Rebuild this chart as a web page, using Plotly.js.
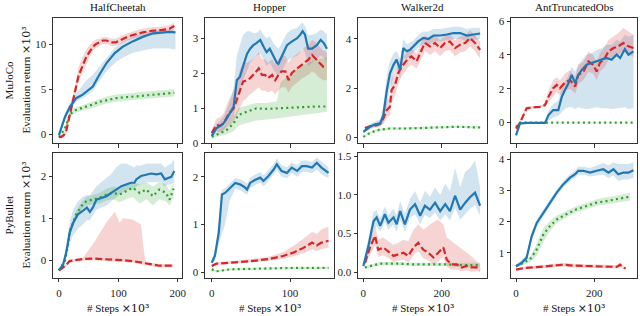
<!DOCTYPE html>
<html>
<head>
<meta charset="utf-8">
<script src="https://cdn.plot.ly/plotly-3.0.1.min.js"></script>
<style>html,body{margin:0;padding:0;background:#fff}#chart{width:640px;height:316px}</style>
</head>
<body>
<div id="chart"></div>
<script>
// ---------- labels ----------
const envNames = ['HalfCheetah', 'Hopper', 'Walker2d', 'AntTruncatedObs'];
const rowNames = ['MuJoCo', 'PyBullet'];
const xTitle = '# Steps <span style="font-family:DejaVu Serif">×10³</span>';
const yTitle = 'Evaluation return <span style="font-family:DejaVu Serif">×10³</span>';

// ---------- MuJoCo HalfCheetah ----------
const mjHcBlueX = [0,5,10,18,29,40,46,57,68,80,94,107,124,141,158,175,186,196];
const mjHcBlue   = [-0.1,0.9,1.9,3.0,4.0,4.4,4.7,5.3,6.6,7.9,9.0,9.7,10.3,10.8,11.2,11.3,11.35,11.3];
const mjHcBlueLo = [-0.3,0.6,1.5,2.6,3.6,4.0,4.3,4.8,5.9,7.0,7.9,8.5,9.0,9.3,9.5,9.5,9.5,9.4];
const mjHcBlueHi = [0.1,1.2,2.3,3.5,4.5,5.4,6.0,6.6,7.5,8.5,9.6,10.3,10.8,11.2,11.5,11.6,11.6,11.6];
const mjHcRedX = [0,4,8,12,16,21,25,29,33,38,46,52,57,62,68,74,80,88,96,107,115,124,133,141,150,158,167,175,186,194];
const mjHcRed   = [-0.3,-0.3,-0.1,0.3,1.5,3.0,4.4,5.6,6.5,7.3,8.6,9.2,9.7,10.0,10.2,10.4,10.4,10.2,10.2,10.6,10.8,11.0,11.2,11.3,11.4,11.5,11.5,11.6,11.7,12.0];
const mjHcRedLo = [-0.5,-0.5,-0.3,0.0,1.0,2.4,3.7,4.9,5.8,6.6,7.8,8.6,9.2,9.6,9.8,10.0,10.0,9.8,9.8,10.2,10.4,10.6,10.8,10.9,10.9,11.0,11.1,11.2,11.3,11.6];
const mjHcRedHi = [-0.1,-0.1,0.1,0.6,2.0,3.6,5.1,6.4,7.4,8.3,9.4,9.9,10.3,10.5,10.6,10.8,10.8,10.6,10.6,11.0,11.2,11.4,11.6,11.7,11.8,11.9,11.9,12.0,12.1,12.4];
const mjHcGreenX = [0,5,10,14,18,23,29,38,46,57,68,80,96,110,124,138,152,166,180,194];
const mjHcGreen   = [-0.3,0.1,0.6,1.4,2.1,2.5,2.7,2.9,3.05,3.3,3.6,3.8,4.0,4.1,4.15,4.25,4.35,4.45,4.5,4.6];
const mjHcGreenLo = [-0.4,-0.05,0.4,1.1,1.8,2.2,2.4,2.6,2.7,2.95,3.2,3.4,3.6,3.7,3.75,3.85,3.95,4.05,4.1,4.2];
const mjHcGreenHi = [-0.2,0.25,0.8,1.7,2.4,2.8,3.0,3.2,3.4,3.65,3.95,4.2,4.4,4.5,4.55,4.65,4.75,4.85,4.9,5.0];

// ---------- MuJoCo Hopper ----------
const mjHoBlueX = [0,6,11,15,19,23,28,32,36,40,45,49,53,57,62,66,70,74,79,83,85,89,96,102,109,113,116,119,123,128,134,139,143,147];
const mjHoBlue   = [0.21,0.43,0.5,0.57,0.7,0.86,1.05,1.8,1.9,2.2,2.55,2.7,2.8,2.86,2.95,2.76,2.6,2.7,2.46,2.3,2.27,2.46,2.8,2.9,3.0,3.1,3.2,3.1,2.7,2.7,2.8,2.95,2.86,2.7];
const mjHoBlueLo = [0.15,0.3,0.35,0.4,0.5,0.6,0.75,1.3,1.5,1.8,2.1,2.3,2.4,2.5,2.55,2.4,2.2,2.3,2.1,1.95,1.9,2.05,2.35,2.45,2.5,2.6,2.7,2.6,2.2,2.3,2.4,2.5,2.45,2.3];
const mjHoBlueHi = [0.3,0.55,0.65,0.75,0.95,1.2,1.6,2.5,2.8,3.1,3.2,3.2,3.15,3.15,3.25,3.1,3.0,3.05,2.85,2.75,2.7,2.85,3.15,3.25,3.3,3.4,3.45,3.35,3.1,3.1,3.15,3.25,3.2,3.1];
const mjHoRedX = [0,6,11,15,21,28,32,36,40,45,49,55,60,64,68,72,77,81,85,89,94,98,102,109,115,119,123,128,132,136,142,147];
const mjHoRed   = [0.29,0.52,0.5,0.57,0.81,1.0,1.24,1.52,1.76,1.8,1.86,2.0,2.14,1.95,1.95,1.86,1.95,1.8,1.95,2.05,2.05,1.8,2.0,2.14,2.24,2.33,2.38,2.52,2.43,2.33,2.19,2.2];
const mjHoRedLo = [0.2,0.35,0.3,0.35,0.5,0.6,0.8,1.0,1.2,1.3,1.4,1.5,1.6,1.5,1.5,1.45,1.5,1.4,1.5,1.6,1.6,1.45,1.6,1.75,1.85,1.9,1.95,2.05,2.0,1.9,1.8,1.8];
const mjHoRedHi = [0.4,0.7,0.75,0.85,1.2,1.5,1.8,2.1,2.3,2.3,2.35,2.45,2.6,2.4,2.4,2.3,2.4,2.25,2.4,2.5,2.5,2.3,2.45,2.55,2.65,2.75,2.8,2.95,2.9,2.8,2.65,2.6];
const mjHoGreenX = [0,6,11,19,28,34,40,49,57,70,83,88,96,113,134,147];
const mjHoGreen   = [0.19,0.24,0.29,0.38,0.57,0.81,0.86,0.93,1.0,0.98,1.0,1.0,1.0,1.03,1.05,1.05];
const mjHoGreenLo = [0.15,0.18,0.2,0.25,0.35,0.5,0.55,0.6,0.65,0.68,0.7,0.72,0.75,0.8,0.85,0.9];
const mjHoGreenHi = [0.25,0.3,0.38,0.5,0.75,1.0,1.05,1.1,1.15,1.15,1.2,1.75,1.9,2.2,2.4,2.45];

// ---------- MuJoCo Walker2d ----------
const mjWaBlueX = [0,17,30,43,51,60,68,77,85,94,102,111,119,128,140,153,166,179,196,213,230,247,264,281,298];
const mjWaBlue   = [0.23,0.44,0.54,0.57,0.91,1.93,2.61,2.95,3.16,2.75,3.63,3.5,3.56,3.7,3.9,4.04,4.0,4.14,4.14,4.18,4.24,4.24,4.14,4.18,4.22];
const mjWaBlueLo = [0.18,0.35,0.45,0.45,0.6,1.3,2.0,2.5,2.8,2.4,3.2,3.2,3.3,3.45,3.65,3.8,3.75,3.9,3.9,3.95,4.0,4.0,3.9,3.95,4.0];
const mjWaBlueHi = [0.3,0.55,0.65,0.75,1.3,2.5,3.1,3.4,3.5,3.2,4.0,3.8,3.85,3.95,4.15,4.3,4.3,4.4,4.4,4.45,4.5,4.5,4.4,4.45,4.45];
const mjWaRedX = [4,17,34,43,51,60,68,72,81,89,98,106,115,123,136,145,157,170,183,196,208,221,234,247,260,272,285,298];
const mjWaRed   = [0.39,0.46,0.5,0.57,0.78,1.12,1.25,1.93,2.14,2.61,2.88,3.02,3.22,3.29,3.09,3.43,3.84,3.7,3.84,3.63,3.84,3.9,3.63,3.77,3.84,4.04,3.84,3.56];
const mjWaRedLo = [0.33,0.4,0.42,0.45,0.55,0.8,0.9,1.4,1.7,2.2,2.5,2.65,2.85,2.95,2.8,3.1,3.5,3.35,3.5,3.3,3.5,3.55,3.3,3.45,3.5,3.7,3.5,3.2];
const mjWaRedHi = [0.45,0.52,0.58,0.7,1.0,1.45,1.7,2.4,2.6,3.0,3.25,3.35,3.55,3.6,3.4,3.75,4.15,4.0,4.15,3.95,4.15,4.2,3.95,4.1,4.15,4.35,4.15,3.9];
const mjWaGreenX = [0,13,34,68,111,153,196,238,298];
const mjWaGreen   = [0.03,0.16,0.3,0.37,0.37,0.39,0.41,0.44,0.41];
const mjWaGreenLo = [0.0,0.12,0.25,0.32,0.33,0.35,0.37,0.4,0.37];
const mjWaGreenHi = [0.06,0.2,0.35,0.42,0.42,0.43,0.45,0.48,0.45];

// ---------- MuJoCo AntTruncatedObs ----------
const mjAnBlueX = [0,10,27,44,74,83,95,108,117,125,134,142,151,159,168,180,193,206,219,231,244,257,266,278,287,300];
const mjAnBlue   = [-0.76,-0.06,-0.02,-0.02,-0.02,0.44,0.74,0.74,1.53,1.93,2.33,2.82,2.33,2.82,3.12,3.42,3.52,3.62,3.72,3.82,3.72,4.02,3.82,4.35,4.02,4.21];
const mjAnBlueLo = [-0.8,-0.1,-0.05,-0.05,-0.05,0.1,0.3,0.4,0.6,0.8,0.9,0.9,0.8,0.9,0.85,0.8,0.85,0.9,0.85,0.85,0.8,0.85,0.85,0.9,0.8,0.85];
const mjAnBlueHi = [-0.7,0.0,0.02,0.02,0.02,0.7,1.1,1.3,2.0,2.4,2.8,3.3,3.0,3.4,3.7,4.0,4.1,4.3,4.4,4.6,4.6,4.9,4.8,5.2,5.1,5.2];
const mjAnRedX = [0,10,19,27,44,61,74,83,95,104,112,125,138,151,159,172,185,197,206,214,227,236,249,261,274,287,300];
const mjAnRed   = [-0.36,-0.02,0.44,0.84,0.9,0.93,1.03,1.53,2.03,2.23,2.03,2.37,2.52,2.13,2.82,3.02,3.62,3.42,3.02,3.52,3.82,4.21,4.41,4.51,4.71,4.51,4.41];
const mjAnRedLo = [-0.4,-0.05,0.35,0.75,0.85,0.88,0.95,1.2,1.6,1.8,1.6,1.9,2.0,1.7,2.3,2.5,3.0,2.9,2.5,3.0,3.3,3.7,3.9,4.0,4.2,4.0,3.9];
const mjAnRedHi = [-0.3,0.02,0.55,0.95,0.98,1.0,1.15,1.9,2.5,2.7,2.5,2.9,3.1,2.7,3.4,3.6,4.2,4.0,3.6,4.1,4.5,4.9,5.1,5.3,5.6,5.4,5.2];
const mjAnGreenX = [0,10,30,60,100,150,200,250,300];
const mjAnGreen   = [-0.26,0.0,0.0,0.0,0.0,0.0,0.0,0.0,0.0];
const mjAnGreenLo = [-0.28,-0.02,-0.02,-0.02,-0.02,-0.02,-0.02,-0.02,-0.02];
const mjAnGreenHi = [-0.24,0.02,0.02,0.02,0.02,0.02,0.02,0.02,0.02];

// ---------- PyBullet HalfCheetah ----------
const pbHcBlueX = [0,7,12,18,24,32,40,47,52,57,63,71,80,88,96,105,113,121,127,130,138,147,155,164,172,178,183,189,194];
const pbHcBlue   = [-0.24,-0.1,0.17,0.65,0.89,1.09,1.17,1.25,1.15,1.25,1.44,1.48,1.52,1.6,1.68,1.76,1.8,1.84,1.84,1.92,2.0,2.04,2.06,2.04,2.06,1.92,1.94,1.98,2.12];
const pbHcBlueLo = [-0.28,-0.15,0.05,0.4,0.6,0.75,0.85,0.95,0.95,1.05,1.2,1.25,1.3,1.4,1.5,1.6,1.65,1.7,1.7,1.75,1.8,1.85,1.85,1.85,1.85,1.75,1.8,1.8,1.85];
const pbHcBlueHi = [-0.2,-0.05,0.3,0.9,1.2,1.4,1.5,1.55,1.55,1.65,1.75,1.85,1.95,2.05,2.2,2.3,2.3,2.25,2.2,2.25,2.25,2.3,2.3,2.3,2.3,2.2,2.25,2.3,2.4];
const pbHcRedX = [0,10,18,35,40,57,74,80,94,102,108,124,138,144,147,169,192];
const pbHcRed   = [-0.24,-0.14,-0.02,0.02,0.03,0.04,0.03,0.02,0.01,0.0,0.0,-0.02,-0.05,-0.07,-0.08,-0.13,-0.13];
const pbHcRedLo = [-0.27,-0.18,-0.06,-0.02,-0.01,0.0,-0.01,-0.02,-0.03,-0.04,-0.04,-0.06,-0.09,-0.11,-0.12,-0.17,-0.17];
const pbHcRedHi = [-0.2,-0.1,0.02,0.05,0.05,0.38,0.77,0.9,1.15,0.89,1.0,0.97,0.85,0.1,-0.04,-0.09,-0.09];
const pbHcGreenX = [0,10,15,19,24,29,38,46,57,68,80,91,102,113,124,136,147,158,169,180,186,193];
const pbHcGreen   = [-0.24,-0.02,0.33,0.73,0.89,1.09,1.29,1.4,1.44,1.48,1.56,1.6,1.56,1.64,1.72,1.6,1.68,1.52,1.68,1.6,1.44,1.7];
const pbHcGreenLo = [-0.26,-0.06,0.25,0.65,0.8,1.0,1.2,1.3,1.33,1.35,1.42,1.45,1.38,1.45,1.5,1.35,1.45,1.3,1.45,1.4,1.3,1.5];
const pbHcGreenHi = [-0.22,0.02,0.4,0.8,0.98,1.18,1.38,1.5,1.55,1.6,1.7,1.75,1.72,1.8,1.85,1.8,1.85,1.75,1.85,1.8,1.65,1.85];

// ---------- PyBullet Hopper ----------
const pbHoBlueX = [0,4,9,13,17,23,30,36,42,45,49,55,62,66,72,79,83,89,96,102,109,115,121,128,134,140,145,149];
const pbHoBlue   = [0.2,0.34,0.83,1.63,1.66,1.75,1.87,1.84,1.78,1.73,1.87,1.93,1.98,1.91,2.01,2.15,2.26,2.12,2.08,2.19,2.12,2.22,2.22,2.19,2.29,2.19,2.12,2.08];
const pbHoBlueLo = [0.15,0.25,0.6,0.8,1.0,1.5,1.75,1.72,1.66,1.62,1.76,1.82,1.87,1.8,1.9,2.04,2.14,2.0,1.97,2.08,2.0,2.1,2.1,2.07,2.15,2.05,2.0,1.98];
const pbHoBlueHi = [0.25,0.45,1.05,1.72,1.76,1.85,1.97,1.95,1.9,1.85,1.98,2.04,2.1,2.03,2.13,2.27,2.38,2.24,2.2,2.3,2.24,2.34,2.34,2.31,2.4,2.32,2.25,2.2];
const pbHoRedX = [0,6,23,49,74,91,104,117,128,134,140,149];
const pbHoRed   = [0.13,0.18,0.2,0.23,0.28,0.34,0.41,0.51,0.62,0.56,0.62,0.66];
const pbHoRedLo = [0.11,0.15,0.17,0.2,0.24,0.28,0.33,0.4,0.48,0.44,0.48,0.52];
const pbHoRedHi = [0.15,0.21,0.23,0.27,0.33,0.42,0.55,0.7,0.85,0.8,0.9,0.95];
const pbHoGreenX = [0,6,23,57,100,149];
const pbHoGreen   = [0.06,0.02,0.06,0.08,0.09,0.09];
const pbHoGreenLo = [0.04,0.0,0.04,0.06,0.07,0.07];
const pbHoGreenHi = [0.08,0.04,0.08,0.1,0.11,0.11];

// ---------- PyBullet Walker2d ----------
const pbWaBlueX = [0,13,26,34,43,55,64,77,85,94,106,119,132,145,157,170,183,196,209,221,234,247,260,272,285,298];
const pbWaBlue   = [0.08,0.34,0.66,0.71,0.6,0.75,0.64,0.71,0.62,0.79,0.62,0.81,0.88,0.73,0.86,0.81,0.9,0.79,0.88,0.79,0.99,0.81,0.9,0.97,1.03,0.86];
const pbWaBlueLo = [0.06,0.25,0.55,0.6,0.52,0.65,0.55,0.62,0.52,0.68,0.52,0.7,0.75,0.62,0.74,0.7,0.77,0.67,0.75,0.67,0.83,0.68,0.75,0.82,0.87,0.73];
const pbWaBlueHi = [0.1,0.45,0.78,0.8,0.7,0.85,0.74,0.82,0.74,0.92,0.75,0.95,1.05,0.9,1.05,0.98,1.1,1.0,1.15,1.05,1.35,1.1,1.3,1.35,1.45,1.1];
const pbWaRedX = [4,17,30,38,51,64,77,89,102,115,128,140,153,166,179,191,204,213,225,238,251,264,277,289,298];
const pbWaRed   = [0.12,0.32,0.47,0.29,0.32,0.27,0.21,0.23,0.25,0.21,0.32,0.38,0.29,0.25,0.19,0.25,0.32,0.16,0.1,0.1,0.06,0.08,0.06,0.06,0.03];
const pbWaRedLo = [0.08,0.22,0.35,0.2,0.22,0.18,0.13,0.15,0.16,0.12,0.22,0.27,0.18,0.15,0.1,0.14,0.2,0.07,0.03,0.03,0.01,0.02,0.0,0.01,0.0];
const pbWaRedHi = [0.16,0.42,0.6,0.42,0.45,0.4,0.35,0.38,0.42,0.4,0.55,0.62,0.55,0.6,0.65,0.68,0.62,0.45,0.4,0.35,0.3,0.25,0.2,0.15,0.1];
const pbWaGreenX = [4,17,43,85,128,170,213,255,298];
const pbWaGreen   = [0.06,0.08,0.11,0.11,0.1,0.1,0.1,0.09,0.09];
const pbWaGreenLo = [0.04,0.06,0.09,0.09,0.08,0.08,0.08,0.06,0.06];
const pbWaGreenHi = [0.08,0.1,0.13,0.13,0.12,0.12,0.12,0.12,0.12];

// ---------- PyBullet AntTruncatedObs ----------
const pbAnBlueX = [0,14,27,40,53,70,87,104,121,138,151,159,172,189,206,223,236,249,261,274,287,300];
const pbAnBlue   = [0.57,0.68,0.84,1.53,1.96,2.29,2.6,2.93,3.2,3.41,3.52,3.63,3.63,3.57,3.63,3.68,3.57,3.68,3.52,3.57,3.57,3.65];
const pbAnBlueLo = [0.52,0.6,0.74,1.38,1.84,2.18,2.5,2.83,3.1,3.3,3.4,3.5,3.5,3.45,3.48,3.5,3.4,3.48,3.3,3.35,3.35,3.4];
const pbAnBlueHi = [0.62,0.76,0.94,1.68,2.08,2.4,2.7,3.03,3.3,3.52,3.64,3.76,3.76,3.72,3.8,3.88,3.8,3.9,3.85,3.85,3.85,3.9];
const pbAnRedX = [0,19,61,104,121,147,189,231,257,266,274,280];
const pbAnRed   = [0.46,0.51,0.55,0.59,0.62,0.59,0.57,0.55,0.55,0.62,0.53,0.5];
const pbAnRedLo = [0.42,0.47,0.5,0.53,0.56,0.53,0.51,0.5,0.5,0.56,0.48,0.46];
const pbAnRedHi = [0.5,0.55,0.6,0.66,0.68,0.65,0.63,0.6,0.6,0.68,0.58,0.54];
const pbAnGreenX = [0,19,36,53,70,87,104,129,155,180,206,231,257,291];
const pbAnGreen   = [0.57,0.68,0.79,1.11,1.59,1.86,2.07,2.24,2.4,2.5,2.61,2.66,2.72,2.8];
const pbAnGreenLo = [0.53,0.62,0.7,0.9,1.35,1.7,1.95,2.14,2.3,2.4,2.5,2.56,2.62,2.68];
const pbAnGreenHi = [0.61,0.74,0.88,1.3,1.8,2.02,2.2,2.34,2.5,2.6,2.72,2.78,2.84,2.92];

// ---------- axis ticks ----------
const xTickVals = [[0,100,200],[0,100],[0,200],[0,200]];
const yTickVals = [[0,5,10],[0,1,2,3],[0,2,4],[0,2,4,6],[0,1,2],[0,1,2],[0,0.5,1.0,1.5],[1,2,3,4]];
const yTickText = [['0','5','10'],['0','1','2','3'],['0','2','4'],['0','2','4','6'],['0','1','2'],['0','1','2'],['0.0','0.5','1.0','1.5'],['1','2','3','4']];

// ---------- build ----------
const BLUE = '#1f77b4', RED = '#d62728', GREEN = '#2ca02c';
const BLUE_F = 'rgba(31,119,180,0.2)', RED_F = 'rgba(214,39,40,0.2)', GREEN_F = 'rgba(44,160,44,0.2)';

const panels = [
  {blue:[mjHcBlueX,mjHcBlue,mjHcBlueLo,mjHcBlueHi], red:[mjHcRedX,mjHcRed,mjHcRedLo,mjHcRedHi], green:[mjHcGreenX,mjHcGreen,mjHcGreenLo,mjHcGreenHi], xr:[-10,207], yr:[-1.0,12.95]},
  {blue:[mjHoBlueX,mjHoBlue,mjHoBlueLo,mjHoBlueHi], red:[mjHoRedX,mjHoRed,mjHoRedLo,mjHoRedHi], green:[mjHoGreenX,mjHoGreen,mjHoGreenLo,mjHoGreenHi], xr:[-8.6,156], yr:[0.0,3.59]},
  {blue:[mjWaBlueX,mjWaBlue,mjWaBlueLo,mjWaBlueHi], red:[mjWaRedX,mjWaRed,mjWaRedLo,mjWaRedHi], green:[mjWaGreenX,mjWaGreen,mjWaGreenLo,mjWaGreenHi], xr:[-13.6,315.5], yr:[-0.23,4.87]},
  {blue:[mjAnBlueX,mjAnBlue,mjAnBlueLo,mjAnBlueHi], red:[mjAnRedX,mjAnRed,mjAnRedLo,mjAnRedHi], green:[mjAnGreenX,mjAnGreen,mjAnGreenLo,mjAnGreenHi], xr:[-12.8,309], yr:[-1.23,6.22]},
  {blue:[pbHcBlueX,pbHcBlue,pbHcBlueLo,pbHcBlueHi], red:[pbHcRedX,pbHcRed,pbHcRedLo,pbHcRedHi], green:[pbHcGreenX,pbHcGreen,pbHcGreenLo,pbHcGreenHi], xr:[-10,207], yr:[-0.41,2.54]},
  {blue:[pbHoBlueX,pbHoBlue,pbHoBlueLo,pbHoBlueHi], red:[pbHoRedX,pbHoRed,pbHoRedLo,pbHoRedHi], green:[pbHoGreenX,pbHoGreen,pbHoGreenLo,pbHoGreenHi], xr:[-8.6,156], yr:[-0.11,2.49]},
  {blue:[pbWaBlueX,pbWaBlue,pbWaBlueLo,pbWaBlueHi], red:[pbWaRedX,pbWaRed,pbWaRedLo,pbWaRedHi], green:[pbWaGreenX,pbWaGreen,pbWaGreenLo,pbWaGreenHi], xr:[-13.6,315.5], yr:[-0.07,1.54]},
  {blue:[pbAnBlueX,pbAnBlue,pbAnBlueLo,pbAnBlueHi], red:[pbAnRedX,pbAnRed,pbAnRedLo,pbAnRedHi], green:[pbAnGreenX,pbAnGreen,pbAnGreenLo,pbAnGreenHi], xr:[-12.8,309], yr:[0.21,4.19]}
];

const colDom = [[53/640,182/640],[205/640,334/640],[358/640,487/640],[511/640,637/640]];
const rowDom = [[1-143.3/316,1-17.5/316],[1-277.5/316,1-153.3/316]];
const FONT = 'Liberation Serif, Times New Roman, serif';
const AX = '#333';
const TFONT = {family: FONT, size: 11, color: '#111'};

const traces = [];
const layout = {
  width: 640, height: 316,
  margin: {l:0, r:0, t:0, b:0},
  paper_bgcolor: '#fff', plot_bgcolor: '#fff',
  showlegend: false,
  font: {family: FONT, size: 11, color: '#222'},
  hovermode: false,
  annotations: []
};
const axName = (letter, n) => letter + 'axis' + (n === 1 ? '' : n);
const axId = (letter, n) => letter + (n === 1 ? '' : n);

panels.forEach((p, i) => {
  const n = i + 1;
  const xa = axId('x', n), ya = axId('y', n);
  const col = i % 4, row = Math.floor(i / 4);
  const bands = [[p.blue, BLUE_F], [p.red, RED_F], [p.green, GREEN_F]];
  bands.forEach(([s, f]) => {
    traces.push({x: s[0], y: s[2], xaxis: xa, yaxis: ya, mode: 'lines', line: {width: 0, color: f}, hoverinfo: 'skip'});
    traces.push({x: s[0], y: s[3], xaxis: xa, yaxis: ya, mode: 'lines', line: {width: 0, color: f}, fill: 'tonexty', fillcolor: f, hoverinfo: 'skip'});
  });
  traces.push({x: p.green[0], y: p.green[1], xaxis: xa, yaxis: ya, mode: 'lines', line: {color: GREEN, width: 2.2, dash: '2px,3.3px'}});
  traces.push({x: p.red[0], y: p.red[1], xaxis: xa, yaxis: ya, mode: 'lines', line: {color: RED, width: 2.2, dash: '7px,3px'}});
  traces.push({x: p.blue[0], y: p.blue[1], xaxis: xa, yaxis: ya, mode: 'lines', line: {color: BLUE, width: 2.2}});

  const common = {showgrid: false, zeroline: false, showline: true, mirror: true, linecolor: AX, linewidth: 1,
                  ticks: 'outside', ticklen: 3.5, tickwidth: 1, tickcolor: AX,
                  tickfont: {family: FONT, size: 11, color: '#222'}};
  layout[axName('x', n)] = Object.assign({}, common, {
    domain: colDom[col], anchor: ya, range: p.xr, tickmode: 'array', tickvals: xTickVals[col],
    showticklabels: row === 1, ticklabelstandoff: 2
  });
  layout[axName('y', n)] = Object.assign({}, common, {
    domain: rowDom[row], anchor: xa, range: p.yr, tickmode: 'array', tickvals: yTickVals[i], ticktext: yTickText[i]
  });
});

// column titles and x-axis titles
envNames.forEach((t, c) => {
  const xc = (colDom[c][0] + colDom[c][1]) / 2;
  layout.annotations.push({text: t, xref: 'paper', yref: 'paper', x: xc, y: 1 - 7/316,
    xanchor: 'center', yanchor: 'middle', showarrow: false, font: TFONT});
  layout.annotations.push({text: xTitle, xref: 'paper', yref: 'paper', x: xc, y: 1 - 308/316,
    xanchor: 'center', yanchor: 'middle', showarrow: false, font: TFONT});
});
// row labels + y titles
rowNames.forEach((t, r) => {
  const yc = (rowDom[r][0] + rowDom[r][1]) / 2;
  layout.annotations.push({text: t, xref: 'paper', yref: 'paper', x: 9/640, y: yc, textangle: -90,
    xanchor: 'center', yanchor: 'middle', showarrow: false, font: TFONT});
  layout.annotations.push({text: yTitle, xref: 'paper', yref: 'paper', x: 26/640, y: yc, textangle: -90,
    xanchor: 'center', yanchor: 'middle', showarrow: false, font: TFONT});
});

Plotly.newPlot('chart', traces, layout, {displayModeBar: false});
</script>
</body>
</html>
